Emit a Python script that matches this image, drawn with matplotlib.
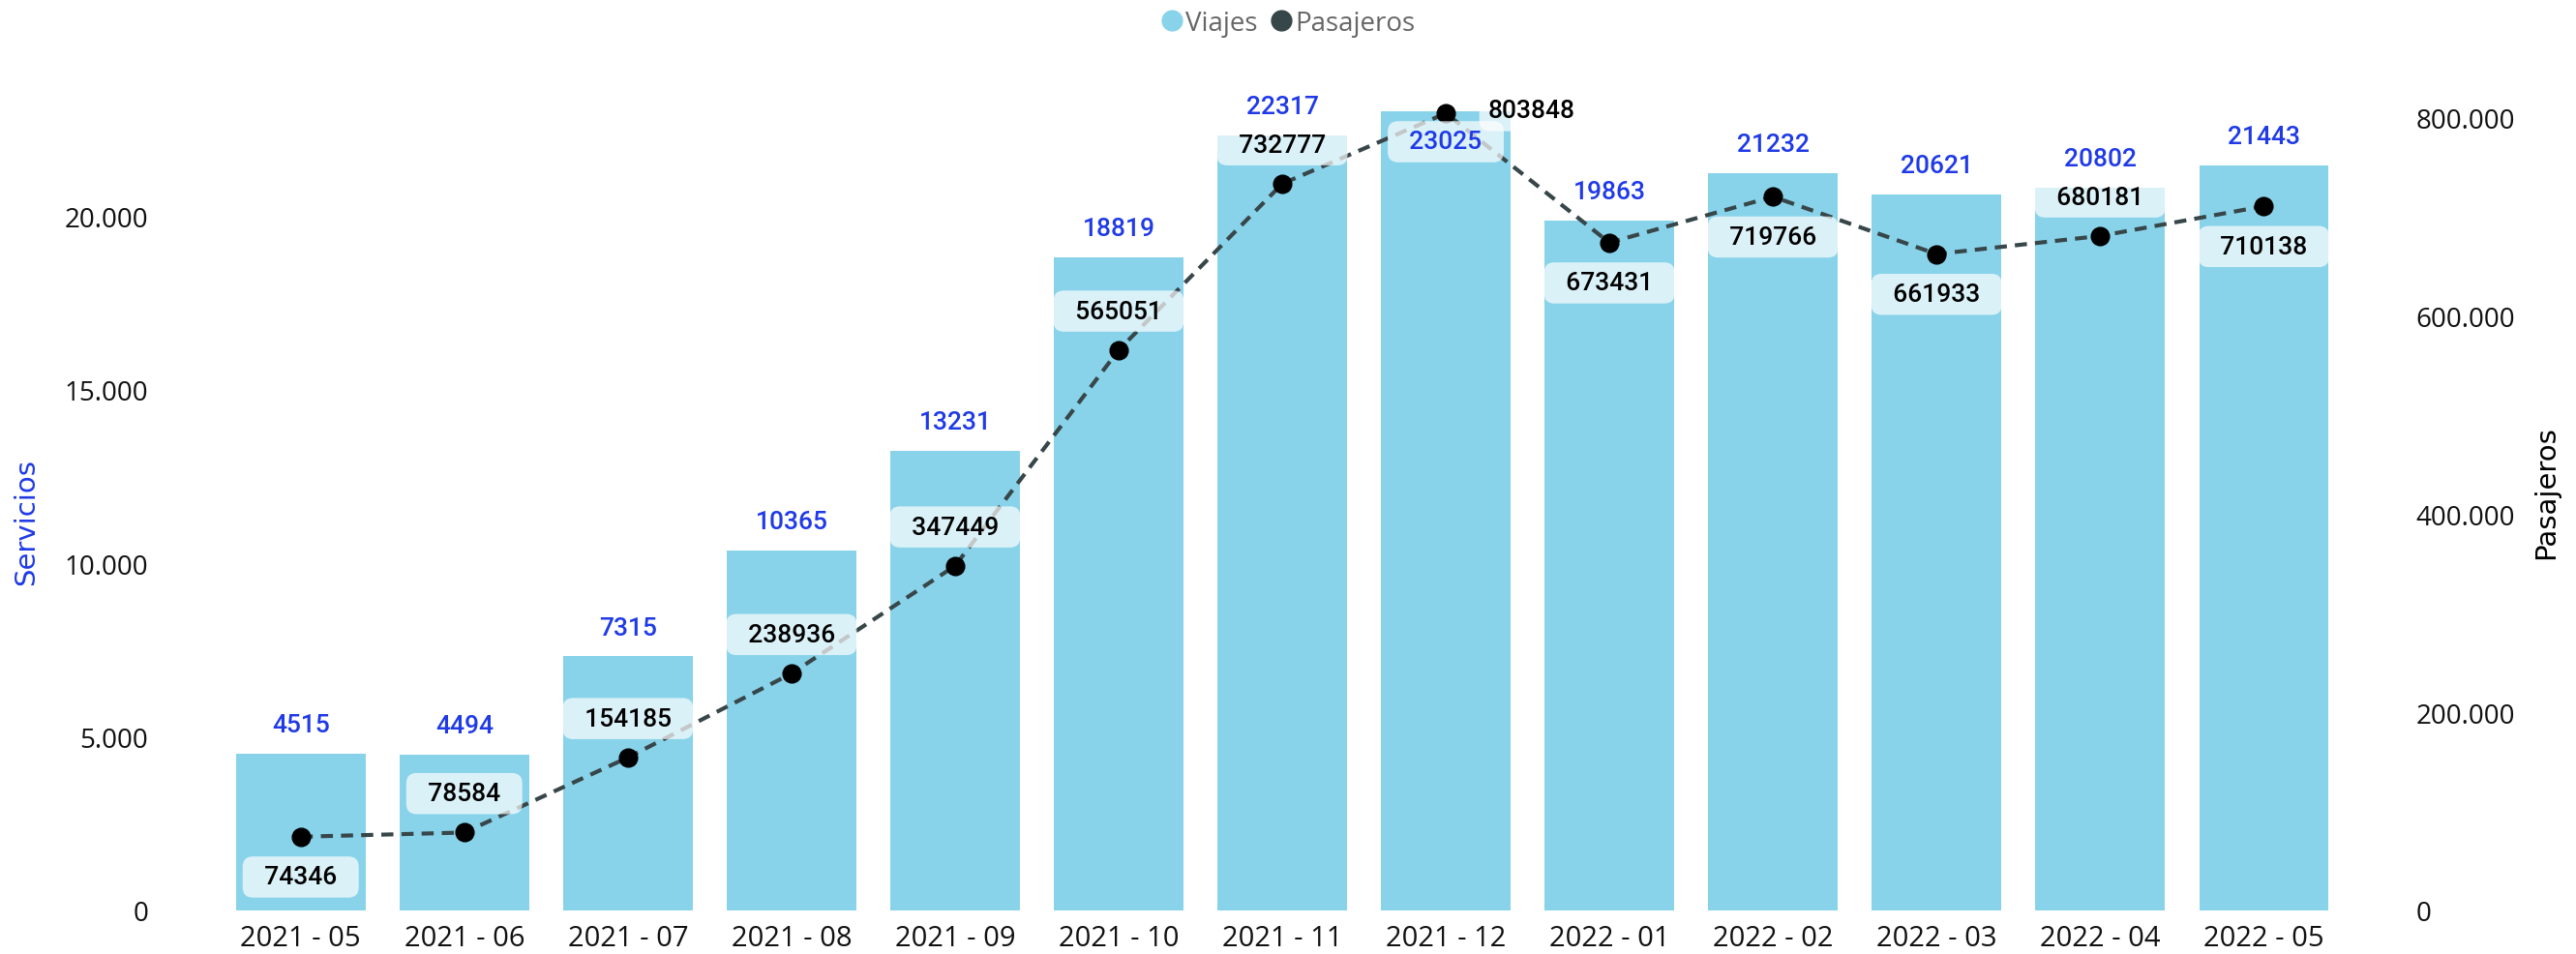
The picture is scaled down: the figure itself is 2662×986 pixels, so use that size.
"""Viajes y pasajeros por mes (barras + linea, dos ejes)."""
import matplotlib; matplotlib.use('Agg')  # noqa: E702
import matplotlib.pyplot as plt
from matplotlib.lines import Line2D
from matplotlib.ticker import FuncFormatter, MultipleLocator

meses = ['2021 - 05', '2021 - 06', '2021 - 07', '2021 - 08', '2021 - 09',
         '2021 - 10', '2021 - 11', '2021 - 12', '2022 - 01', '2022 - 02',
         '2022 - 03', '2022 - 04', '2022 - 05']
viajes = [4515, 4494, 7315, 10365, 13231, 18819, 22317, 23025, 19863,
          21232, 20621, 20802, 21443]
pasajeros = [74346, 78584, 154185, 238936, 347449, 565051, 732777, 803848,
             673431, 719766, 661933, 680181, 710138]

# where each data label sits relative to its mark
pos_viajes = ['above'] * 7 + ['inside'] + ['above'] * 5
pos_pasajeros = ['below', 'above', 'above', 'above', 'above', 'above', 'above',
                 'right', 'below', 'below', 'below', 'above', 'below']

BAR = '#89d3ea'
LINE = '#374649'
BLUE = '#1f3ae6'
TICK_FONT = 'Open Sans'
LABEL_FONT = 'Roboto'

fig = plt.figure(figsize=(26.62, 9.87), dpi=100)
ax = fig.add_axes([0.0691, 0.0456, 0.8573, 0.8946])
ax2 = ax.twinx()

x = range(len(meses))
ax.bar(x, viajes, width=0.79, color=BAR, zorder=1)
ax2.plot(x, pasajeros, color=LINE, lw=3.0, ls=(0, (3, 2)), zorder=2)
ax2.plot(x, pasajeros, 'o', color='black', ms=13.5, zorder=3)

ax.set_xlim(-0.75, len(meses) - 0.25)
ax.set_ylim(0, 24600)
ax2.set_ylim(0, 24600 * 35.02)
ax.yaxis.set_major_locator(MultipleLocator(5000))
ax2.yaxis.set_major_locator(MultipleLocator(200000))
fmt = FuncFormatter(lambda v, _: f'{int(v):,}'.replace(',', '.'))
ax.yaxis.set_major_formatter(fmt)
ax2.yaxis.set_major_formatter(fmt)
ax.set_xticks(list(x))
ax.set_xticklabels(meses)

for a in (ax, ax2):
    for s in a.spines.values():
        s.set_visible(False)
    a.tick_params(length=0, colors='#111111', labelsize=20)
    for t in a.get_xticklabels() + a.get_yticklabels():
        t.set_fontfamily(TICK_FONT)
ax.tick_params(axis='y', pad=22)
ax2.tick_params(axis='y', pad=22)
ax.tick_params(axis='x', pad=10, labelsize=21)

box = dict(boxstyle='round,pad=0.35,rounding_size=0.4', fc='white',
           ec='none', alpha=0.7)
lbl = dict(ha='center', va='center', fontsize=19, fontfamily=LABEL_FONT,
           fontweight='medium', zorder=5)

for i, (v, p) in enumerate(zip(viajes, pos_viajes)):
    if p == 'above':
        ax2.annotate(str(v), (i, v), xycoords=ax.transData,
                     xytext=(0, 21.5), textcoords='offset points',
                     color=BLUE, **lbl)
    else:
        ax2.annotate(f'  {v}  ', (i, v), xycoords=ax.transData,
                     xytext=(0, -23), textcoords='offset points',
                     color=BLUE, bbox=box, **lbl)

offsets = {'above': (0, 29), 'below': (0, -30), 'right': (64, 2)}
for i, (v, p) in enumerate(zip(pasajeros, pos_pasajeros)):
    txt = str(v) if p == 'right' else f'  {v}  '
    ax2.annotate(txt, (i, v), xytext=offsets[p], textcoords='offset points',
                 color='black', bbox=box, **lbl)

fig.text(0.0101, 0.453, 'Servicios', rotation=90, ha='center', va='center',
         color=BLUE, fontsize=21, fontfamily='Liberation Sans Narrow')
fig.text(0.9885, 0.484, 'Pasajeros', rotation=90, ha='center', va='center',
         color='black', fontsize=21, fontfamily='Liberation Sans Narrow')

handles = [Line2D([], [], marker='o', ls='', color=BAR, ms=15),
           Line2D([], [], marker='o', ls='', color=LINE, ms=15)]
fig.legend(handles, ['Viajes', 'Pasajeros'], loc='center',
           bbox_to_anchor=(0.5, 0.975), ncol=2, frameon=False,
           handletextpad=0.1, columnspacing=0.5, handlelength=0.8,
           prop={'family': TICK_FONT, 'size': 20}, labelcolor='#666666')

fig.savefig('out.png', dpi=100)
